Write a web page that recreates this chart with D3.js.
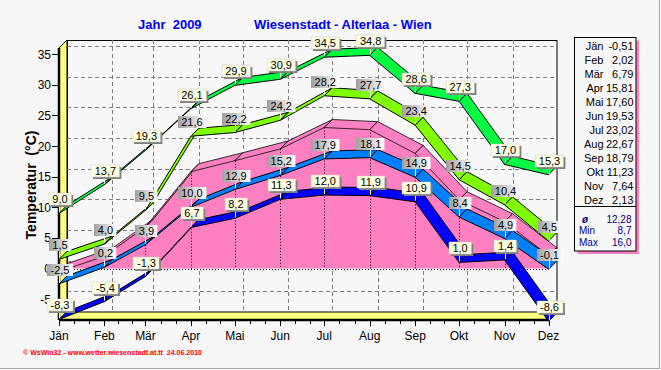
<!DOCTYPE html>
<html>
<head>
<meta charset="utf-8">
<script src="https://cdn.jsdelivr.net/npm/d3@7"></script>
<style>
  body { margin: 0; background: #f7f7f7; }
  svg { display: block; font-family: Arial, "Liberation Sans", sans-serif; }
</style>
</head>
<body>
<svg id="chart" width="661" height="370"></svg>
<script>
const months = ['Jän', 'Feb', 'Mär', 'Apr', 'Mai', 'Jun', 'Jul', 'Aug', 'Sep', 'Okt', 'Nov', 'Dez']
const absMax = [9.0, 13.7, 19.3, 26.1, 29.9, 30.9, 34.5, 34.8, 28.6, 27.3, 17.0, 15.3]
const avgMax = [1.5, 4.0, 9.5, 21.6, 22.2, 24.2, 28.2, 27.7, 23.4, 14.5, 10.4, 4.5]
const monthMean = [-0.51, 2.02, 6.79, 15.81, 17.60, 19.53, 23.02, 22.67, 18.79, 11.23, 7.64, 2.13]
const avgMin = [-2.5, 0.2, 3.9, 10.0, 12.9, 15.2, 17.9, 18.1, 14.9, 8.4, 4.9, -0.1]
const absMin = [-8.3, -5.4, -1.3, 6.7, 8.2, 11.3, 12.0, 11.9, 10.9, 1.0, 1.4, -8.6]
const yTicks = [-5, 0, 5, 10, 15, 20, 25, 30, 35]
const statLabels = ['ø', 'Min', 'Max']
const statValues = ['12,28', '8,7', '16,0']

const svg = d3.select('#chart')
const depth = 8
const dates = months.map((m, i) => new Date(2009, i, 1))

const x = d3.scaleTime().domain([dates[0], dates[11]]).range([59, 548.5])
const y = d3.scaleLinear().domain([-8.4, 36]).range([320, 48])

const fmt1 = v => d3.format('.1f')(v).replace('.', ',').replace('\u2212', '-')
const fmt2 = v => d3.format('.2f')(v).replace('.', ',').replace('\u2212', '-')

const front = vals => vals.map((v, i) => [x(dates[i]), y(v)])
const shift = ([px, py]) => [px + depth, py - depth]
const poly = pts => 'M' + pts.map(p => p.join(',')).join('L') + 'Z'

// gradient for the grey marks
const defs = svg.append('defs')
const grad = defs.append('linearGradient').attr('id', 'greyMark')
grad.append('stop').attr('offset', '0%').attr('stop-color', '#a0a0a0')
grad.append('stop').attr('offset', '100%').attr('stop-color', '#ffffff')

// frame of the window
svg.append('rect').attr('width', 661).attr('height', 370).attr('fill', '#f7f7f7')
svg.append('line').attr('x1', 659.5).attr('x2', 659.5).attr('y1', 0).attr('y2', 369)
  .attr('stroke', '#a8a8a8')
svg.append('line').attr('x1', 0).attr('x2', 660).attr('y1', 368.5).attr('y2', 368.5)
  .attr('stroke', '#a8a8a8')

// titles
svg.append('text').attr('x', 138).attr('y', 29).attr('fill', '#0000f0')
  .attr('font-size', 13).attr('font-weight', 'bold').style('white-space', 'pre')
  .text('Jahr  2009')
svg.append('text').attr('x', 254).attr('y', 29).attr('fill', '#0000f0')
  .attr('font-size', 13).attr('font-weight', 'bold')
  .text('Wiesenstadt - Alterlaa - Wien')

const x0 = x.range()[0], x1 = x.range()[1]
const yTop = y.range()[1], yBot = y.range()[0]

// back wall
svg.append('rect')
  .attr('x', x0 + depth + 0.5).attr('y', yTop - depth + 0.5)
  .attr('width', x1 - x0).attr('height', yBot - yTop)
  .attr('fill', '#f8f8f8').attr('stroke', '#000')

// grid on the back wall
const grid = svg.append('g').attr('stroke', '#808080').attr('stroke-dasharray', '4,3')
grid.selectAll('line.h').data(yTicks).join('line').attr('class', 'h')
  .attr('x1', x0 + depth).attr('x2', x1 + depth)
  .attr('y1', d => Math.round(y(d) - depth) + 0.5).attr('y2', d => Math.round(y(d) - depth) + 0.5)
grid.selectAll('line.v').data(dates.slice(1, 11)).join('line').attr('class', 'v')
  .attr('x1', d => Math.round(x(d) + depth) + 0.5).attr('x2', d => Math.round(x(d) + depth) + 0.5)
  .attr('y1', yTop - depth).attr('y2', yBot - depth)

// left wall and floor
svg.append('path')
  .attr('d', poly([[x0, yTop], [x0 + depth, yTop - depth], [x0 + depth, yBot - depth], [x0, yBot]]))
  .attr('fill', '#ffff80').attr('stroke', '#000')
svg.append('path')
  .attr('d', poly([[x0, yBot], [x0 + depth, yBot - depth], [x1 + depth, yBot - depth], [x1, yBot]]))
  .attr('fill', '#ffff80').attr('stroke', '#000')
svg.append('line').attr('x1', x0).attr('x2', x0).attr('y1', yTop).attr('y2', yBot)
  .attr('stroke', '#000').attr('stroke-width', 2.5)
svg.append('line').attr('x1', x0).attr('x2', x1).attr('y1', yBot).attr('y2', yBot)
  .attr('stroke', '#000').attr('stroke-width', 2.5)

// left axis
const yAxis = svg.append('g')
yAxis.selectAll('line').data(yTicks).join('line')
  .attr('x1', 52).attr('x2', x0)
  .attr('y1', d => Math.round(y(d)) + 0.5).attr('y2', d => Math.round(y(d)) + 0.5)
  .attr('stroke', '#000')
yAxis.selectAll('text').data(yTicks).join('text')
  .attr('x', 51).attr('y', d => y(d) + 4.5).attr('text-anchor', 'end')
  .attr('font-size', 12).text(d => d)
svg.append('text').attr('transform', 'translate(36,185) rotate(-90)')
  .attr('text-anchor', 'middle').attr('font-size', 14).attr('font-weight', 'bold')
  .style('white-space', 'pre').text('Temperatur  (°C)')

// bottom axis
const xAxis = svg.append('g').attr('stroke', '#000')
const minor = []
dates.slice(0, 11).forEach((d, i) => {
  const a = x(d), b = x(dates[i + 1])
  minor.push(a + (b - a) / 3, a + 2 * (b - a) / 3)
})
xAxis.selectAll('line.maj').data(dates).join('line').attr('class', 'maj')
  .attr('x1', d => Math.round(x(d)) + 0.5).attr('x2', d => Math.round(x(d)) + 0.5)
  .attr('y1', yBot).attr('y2', yBot + 6)
xAxis.selectAll('line.min').data(minor).join('line').attr('class', 'min')
  .attr('x1', d => Math.round(d) + 0.5).attr('x2', d => Math.round(d) + 0.5)
  .attr('y1', yBot).attr('y2', yBot + 4)
svg.append('g').selectAll('text').data(months).join('text')
  .attr('x', (d, i) => x(dates[i])).attr('y', 340).attr('text-anchor', 'middle')
  .attr('font-size', 12).text(d => d)

// monthly mean as a 3D area
const meanPts = front(monthMean)
const y0 = y(0)
const areaG = svg.append('g')
areaG.append('path')
  .attr('d', d3.area().x(d => d[0]).y0(y0).y1(d => d[1])(meanPts))
  .attr('fill', '#ff80c0')
const last = meanPts[meanPts.length - 1]
areaG.append('path')
  .attr('d', poly([last, shift(last), [last[0] + depth, y0 - depth], [last[0], y0]]))
  .attr('fill', '#ff80c0').attr('stroke', '#000').attr('stroke-width', 0.8)
for (let i = 0; i < meanPts.length - 1; i++) {
  const a = meanPts[i], b = meanPts[i + 1]
  areaG.append('path').attr('d', poly([a, b, shift(b), shift(a)]))
    .attr('fill', '#ff80c0').attr('stroke', '#000').attr('stroke-width', 0.8)
}
areaG.selectAll('line.drop').data(meanPts.slice(1, 11)).join('line').attr('class', 'drop')
  .attr('x1', d => Math.round(d[0]) + 0.5).attr('x2', d => Math.round(d[0]) + 0.5)
  .attr('y1', d => d[1]).attr('y2', y0)
  .attr('stroke', '#000').attr('stroke-dasharray', '1,2')
areaG.append('line').attr('x1', x0).attr('x2', x1)
  .attr('y1', Math.round(y0) + 0.5).attr('y2', Math.round(y0) + 0.5)
  .attr('stroke', '#000').attr('stroke-dasharray', '1,2')

// 3D ribbons for the line series
const lineSeries = [
  { values: absMax, color: '#00ff40', mark: 'cream' },
  { values: avgMax, color: '#80ff00', mark: 'grey' },
  { values: avgMin, color: '#0080ff', mark: 'grey' },
  { values: absMin, color: '#0000ff', mark: 'cream' }
]

lineSeries.forEach(s => {
  const pts = front(s.values)
  const g = svg.append('g')
  for (let i = 0; i < pts.length - 1; i++) {
    const a = pts[i], b = pts[i + 1]
    g.append('path').attr('d', poly([a, b, shift(b), shift(a)]))
      .attr('fill', s.color).attr('stroke', '#000').attr('stroke-width', 1)
  }
})

// value marks
lineSeries.forEach(s => {
  const pts = front(s.values)
  const g = svg.append('g')
  pts.forEach(([px, py], i) => {
    const m = g.append('g')
    m.append('line').attr('x1', Math.round(px) + 0.5).attr('x2', Math.round(px) + 0.5)
      .attr('y1', py - 1).attr('y2', py - 8).attr('stroke', '#fff')
    const t = m.append('text').attr('x', px + 1).attr('y', py - 10)
      .attr('text-anchor', 'middle').attr('font-size', 11).attr('fill', '#000')
      .text(fmt1(s.values[i]))
    const w = t.node().getComputedTextLength() + 7
    const bx = Math.round(px + 1 - w / 2), by = Math.round(py - 20)
    if (s.mark === 'cream') {
      m.insert('rect', 'text').attr('x', bx + 2).attr('y', by + 2)
        .attr('width', w).attr('height', 12).attr('fill', '#808080')
      m.insert('rect', 'text').attr('x', bx).attr('y', by)
        .attr('width', w).attr('height', 12).attr('fill', '#ffffe1')
        .attr('stroke', '#c8c8c8').attr('stroke-width', 0.5)
    } else {
      m.insert('rect', 'text').attr('x', bx).attr('y', by)
        .attr('width', w).attr('height', 12).attr('fill', 'url(#greyMark)')
    }
  })
})

// legend with monthly means
const leg = svg.append('g')
leg.append('rect').attr('x', 577.5).attr('y', 40.5).attr('width', 61.5).attr('height', 213.5)
  .attr('fill', '#ff80c0')
leg.append('rect').attr('x', 574.5).attr('y', 37.5).attr('width', 61.5).attr('height', 213.5)
  .attr('fill', '#f8f8f8').attr('stroke', '#000')
leg.selectAll('text.m').data(months).join('text').attr('class', 'm')
  .attr('x', 603.5).attr('y', (d, i) => 50 + i * 14).attr('text-anchor', 'end')
  .attr('font-size', 11).text(d => d)
leg.selectAll('text.v').data(monthMean).join('text').attr('class', 'v')
  .attr('x', 633.5).attr('y', (d, i) => 50 + i * 14).attr('text-anchor', 'end')
  .attr('font-size', 11).text(d => fmt2(d))
leg.append('line').attr('x1', 574.5).attr('x2', 636).attr('y1', 206.5).attr('y2', 206.5)
  .attr('stroke', '#000')
leg.selectAll('text.s').data(statLabels).join('text').attr('class', 's')
  .attr('x', (d, i) => i === 0 ? 582 : 579).attr('y', (d, i) => 222.5 + i * 11.7)
  .attr('font-size', 10).attr('fill', '#000080')
  .attr('font-style', (d, i) => i === 0 ? 'italic' : null)
  .attr('font-weight', (d, i) => i === 0 ? 'bold' : null)
  .text(d => d)
leg.selectAll('text.sv').data(statValues).join('text').attr('class', 'sv')
  .attr('x', 631.5).attr('y', (d, i) => 222.5 + i * 11.7).attr('text-anchor', 'end')
  .attr('font-size', 10).attr('fill', '#000080').text(d => d)

// footer
svg.append('text').attr('x', 23).attr('y', 354.5).attr('fill', '#ff0000')
  .attr('font-size', 8).attr('font-weight', 'bold')
  .attr('textLength', 179).attr('lengthAdjust', 'spacingAndGlyphs')
  .style('white-space', 'pre')
  .text('© WsWin32 - www.wetter.wiesenstadt.at.tt  24.06.2010')
</script>
</body>
</html>
